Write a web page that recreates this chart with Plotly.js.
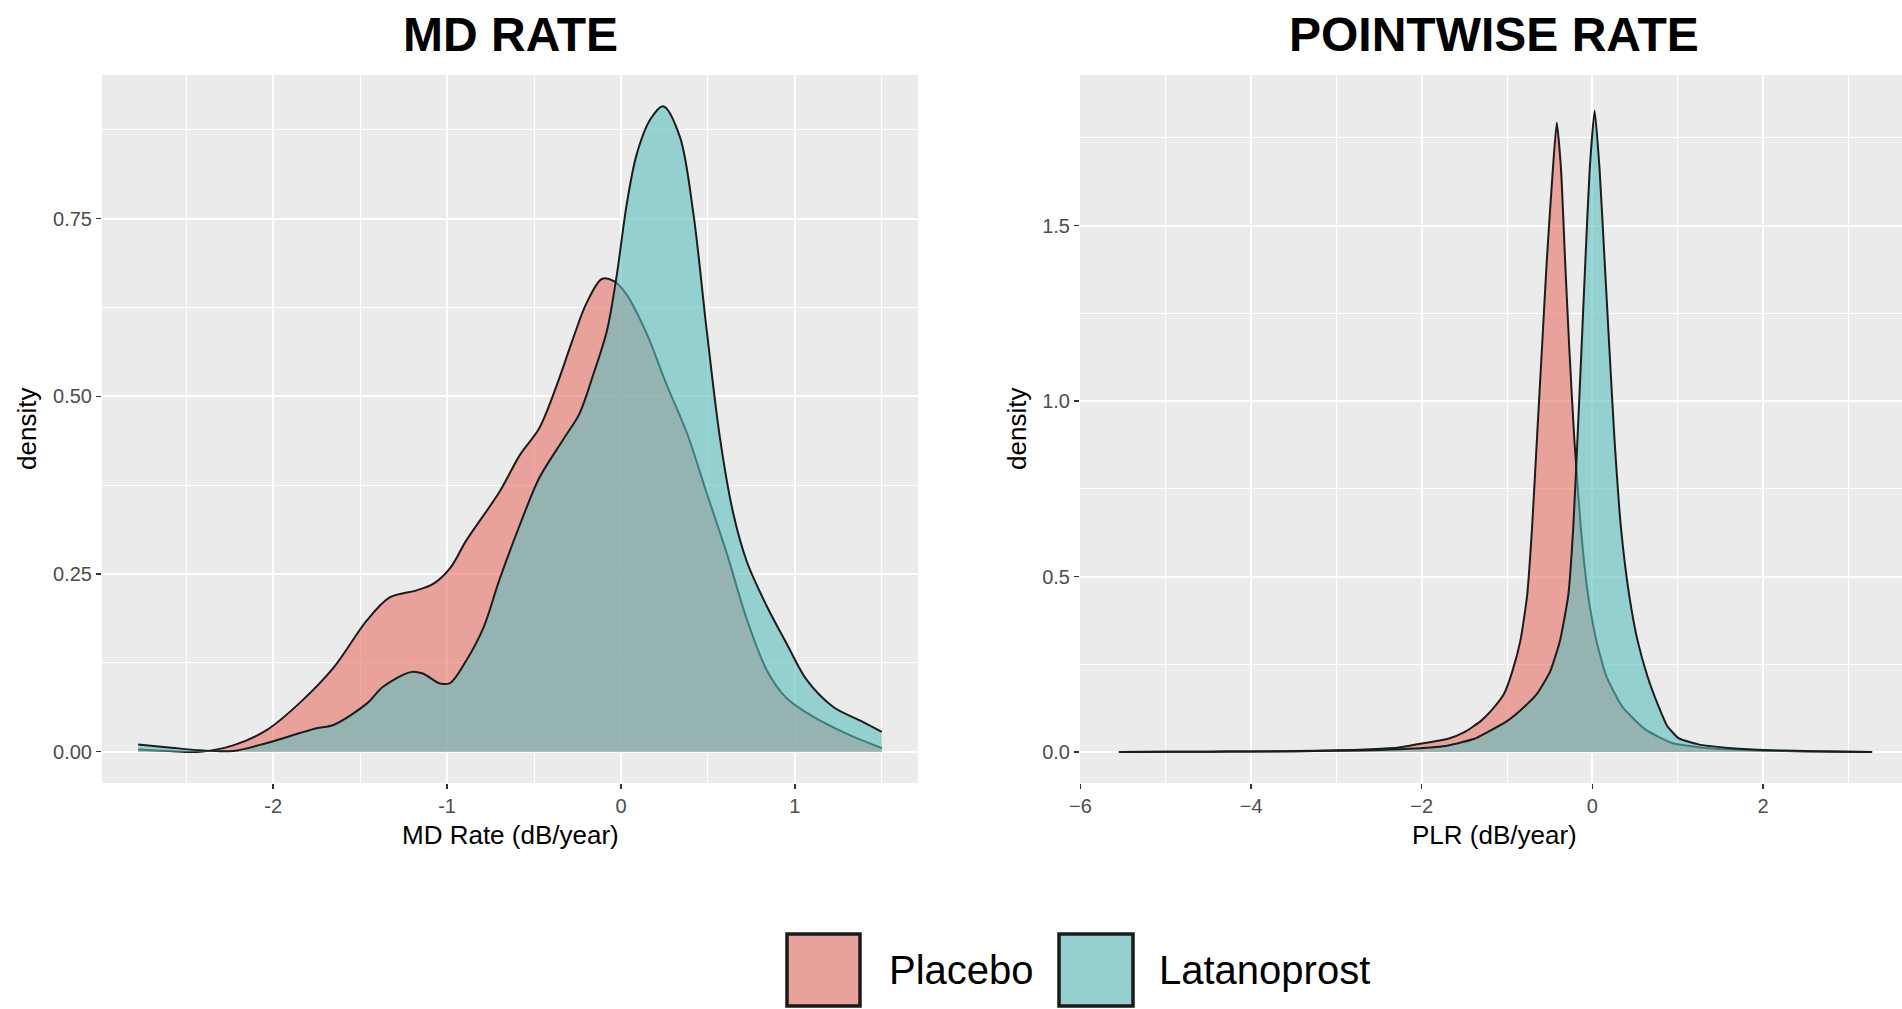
<!DOCTYPE html>
<html>
<head>
<meta charset="utf-8">
<script src="https://cdn.plot.ly/plotly-3.0.1.min.js"></script>
<style>
  html, body { margin: 0; padding: 0; background: #ffffff; }
  #chart { width: 1902px; height: 1009px; }
</style>
</head>
<body>
<div id="chart"></div>
<script>
// ---------------- DATA ----------------
const groups = ["Placebo", "Latanoprost"];
const panelTitles = ["MD RATE", "POINTWISE RATE"];
const xTitles = ["MD Rate (dB/year)", "PLR (dB/year)"];
const yTitle = "density";

// MD rate panel
const mdPlaceboX = [-2.776, -2.6, -2.42, -2.23, -2.04, -1.85, -1.65, -1.46, -1.33, -1.175, -1.08, -0.98, -0.89, -0.70, -0.58, -0.47, -0.37, -0.27, -0.20, -0.11, -0.04, 0.03, 0.15, 0.26, 0.38, 0.49, 0.61, 0.72, 0.84, 0.95, 1.1, 1.3, 1.5];
const mdPlaceboY = [0.003, 0.001, 0.0, 0.009, 0.030, 0.068, 0.119, 0.185, 0.217, 0.227, 0.236, 0.259, 0.297, 0.365, 0.418, 0.455, 0.515, 0.585, 0.630, 0.665, 0.662, 0.644, 0.587, 0.518, 0.448, 0.366, 0.278, 0.189, 0.114, 0.076, 0.05, 0.025, 0.005];
const mdLatanoX = [-2.776, -2.6, -2.42, -2.23, -2.04, -1.85, -1.75, -1.65, -1.46, -1.37, -1.21, -1.14, -1.04, -0.98, -0.89, -0.79, -0.70, -0.58, -0.47, -0.33, -0.24, -0.16, -0.08, -0.025, 0.033, 0.09, 0.17, 0.243, 0.339, 0.416, 0.493, 0.569, 0.646, 0.723, 0.838, 0.953, 1.068, 1.221, 1.374, 1.5];
const mdLatanoY = [0.010, 0.006, 0.002, 0.001, 0.012, 0.026, 0.033, 0.038, 0.068, 0.091, 0.112, 0.110, 0.096, 0.097, 0.128, 0.175, 0.241, 0.32, 0.385, 0.44, 0.475, 0.53, 0.593, 0.669, 0.77, 0.84, 0.89, 0.908, 0.865, 0.758, 0.593, 0.442, 0.335, 0.268, 0.205, 0.152, 0.101, 0.063, 0.044, 0.028];

// Pointwise rate panel
const plrPlaceboX = [-5.55, -5.0, -4.5, -4.0, -3.5, -3.0, -2.6, -2.27, -1.96, -1.69, -1.5, -1.305, -1.15, -1.035, -0.938, -0.842, -0.764, -0.707, -0.649, -0.591, -0.533, -0.463, -0.417, -0.367, -0.32, -0.27, -0.212, -0.135, -0.05, 0.046, 0.162, 0.355, 0.625, 0.934, 1.4, 2.0, 2.5, 3.0, 3.28];
const plrPlaceboY = [0.0, 0.001, 0.001, 0.002, 0.003, 0.005, 0.008, 0.013, 0.026, 0.038, 0.057, 0.089, 0.128, 0.166, 0.23, 0.319, 0.447, 0.638, 0.894, 1.149, 1.404, 1.66, 1.794, 1.66, 1.404, 1.149, 0.894, 0.638, 0.447, 0.319, 0.217, 0.128, 0.064, 0.026, 0.01, 0.004, 0.002, 0.001, 0.0];
const plrLatanoX = [-5.55, -5.0, -4.5, -4.0, -3.5, -3.0, -2.5, -2.08, -1.69, -1.382, -1.228, -0.996, -0.803, -0.649, -0.494, -0.378, -0.282, -0.224, -0.174, -0.127, -0.081, -0.031, 0.027, 0.085, 0.143, 0.2, 0.259, 0.336, 0.432, 0.529, 0.645, 0.78, 0.876, 1.01, 1.243, 1.59, 2.0, 2.5, 3.0, 3.28];
const plrLatanoY = [0.0, 0.001, 0.001, 0.002, 0.002, 0.004, 0.006, 0.01, 0.019, 0.038, 0.057, 0.089, 0.128, 0.166, 0.23, 0.319, 0.447, 0.638, 0.894, 1.149, 1.404, 1.66, 1.828, 1.66, 1.404, 1.149, 0.894, 0.638, 0.447, 0.319, 0.217, 0.128, 0.075, 0.040, 0.022, 0.012, 0.006, 0.003, 0.001, 0.0];

// Tick labels
const mdXTicks = [-2, -1, 0, 1];
const mdXTickText = ["-2", "-1", "0", "1"];
const mdYTicks = [0, 0.25, 0.5, 0.75];
const mdYTickText = ["0.00", "0.25", "0.50", "0.75"];
const plrXTicks = [-6, -4, -2, 0, 2];
const plrXTickText = ["\u22126", "\u22124", "\u22122", "0", "2"];
const plrYTicks = [0, 0.5, 1.0, 1.5];
const plrYTickText = ["0.0", "0.5", "1.0", "1.5"];

// ---------------- STYLE ----------------
const W = 1902, H = 1009;
const px = v => v / W;
const py = v => 1 - v / H;

const fills = {
  "Placebo": "rgba(232,113,102,0.6)",
  "Latanoprost": "rgba(92,190,192,0.6)"
};
const keyFills = { "Placebo": "#E8A29B", "Latanoprost": "#96CFD0" };
const outline = { color: "#1c1c1c", width: 2, shape: "spline", smoothing: 0.9 };
const outlineSharp = { color: "#1c1c1c", width: 2, shape: "spline", smoothing: 0.5 };

function densityTrace(x, y, name, xa, ya, line) {
  return {
    type: "scatter", mode: "lines", x: x, y: y, name: name,
    xaxis: xa, yaxis: ya, fill: "tozeroy",
    fillcolor: fills[name], line: line, hoverinfo: "skip", showlegend: false
  };
}

const data = [
  densityTrace(mdPlaceboX, mdPlaceboY, groups[0], "x", "y", outline),
  densityTrace(mdLatanoX, mdLatanoY, groups[1], "x", "y", outline),
  densityTrace(plrPlaceboX, plrPlaceboY, groups[0], "x2", "y2", outlineSharp),
  densityTrace(plrLatanoX, plrLatanoY, groups[1], "x2", "y2", outlineSharp)
];

const tickFont = { family: "Liberation Sans, Arial, sans-serif", size: 20, color: "#4D4D4D" };

function axis(extra) {
  return Object.assign({
    tickmode: "array",
    showgrid: true, gridcolor: "#FFFFFF", gridwidth: 2,
    zeroline: false, showline: false,
    ticks: "outside", ticklen: 5, tickwidth: 1.5, tickcolor: "#333333",
    tickfont: tickFont, fixedrange: true
  }, extra);
}

const yDomain = [1 - 783 / H, 1 - 75 / H];

const layout = {
  width: W, height: H,
  margin: { l: 0, r: 0, t: 0, b: 0 },
  paper_bgcolor: "#FFFFFF",
  plot_bgcolor: "#EBEBEB",
  showlegend: false,
  xaxis: axis({
    domain: [px(102), px(918)], range: [-2.984, 1.708], anchor: "y",
    tickvals: mdXTicks, ticktext: mdXTickText,
    minor: { tickvals: [-2.5, -1.5, -0.5, 0.5, 1.5], showgrid: true, gridcolor: "#FFFFFF", gridwidth: 1, ticks: "" }
  }),
  yaxis: axis({
    domain: yDomain, range: [-0.044, 0.952], anchor: "x",
    tickvals: mdYTicks, ticktext: mdYTickText,
    minor: { tickvals: [0.125, 0.375, 0.625, 0.875], showgrid: true, gridcolor: "#FFFFFF", gridwidth: 1, ticks: "" }
  }),
  xaxis2: axis({
    domain: [px(1080), 1], range: [-6.006, 3.63], anchor: "y2",
    tickvals: plrXTicks, ticktext: plrXTickText,
    minor: { tickvals: [-5, -3, -1, 1, 3], showgrid: true, gridcolor: "#FFFFFF", gridwidth: 1, ticks: "" }
  }),
  yaxis2: axis({
    domain: yDomain, range: [-0.088, 1.929], anchor: "x2",
    tickvals: plrYTicks, ticktext: plrYTickText,
    minor: { tickvals: [0.25, 0.75, 1.25, 1.75], showgrid: true, gridcolor: "#FFFFFF", gridwidth: 1, ticks: "" }
  }),
  annotations: [],
  shapes: []
};

const titleFont = { family: "Liberation Sans, Arial, sans-serif", size: 48, color: "#000000", weight: "bold" };
const axTitleFont = { family: "Liberation Sans, Arial, sans-serif", size: 26, color: "#000000" };
const legFont = { family: "Liberation Sans, Arial, sans-serif", size: 40, color: "#000000" };

function ann(text, x, y, font, extra) {
  layout.annotations.push(Object.assign({
    text: text, xref: "paper", yref: "paper", x: px(x), y: py(y),
    xanchor: "center", yanchor: "middle", showarrow: false, font: font
  }, extra || {}));
}

// panel titles
ann("<b>" + panelTitles[0] + "</b>", 510, 35, titleFont);
ann("<b>" + panelTitles[1] + "</b>", 1494, 35, titleFont);
// axis titles
ann(xTitles[0], 510, 835, axTitleFont);
ann(xTitles[1], 1494, 835, axTitleFont);
ann(yTitle, 27, 429, axTitleFont, { textangle: -90 });
ann(yTitle, 1017, 429, axTitleFont, { textangle: -90 });

// legend
const keys = [
  { name: groups[0], x0: 787, x1: 860, tx: 887 },
  { name: groups[1], x0: 1059, x1: 1133, tx: 1157 }
];
keys.forEach(k => {
  layout.shapes.push({
    type: "rect", xref: "paper", yref: "paper",
    x0: px(k.x0), x1: px(k.x1), y0: py(1006), y1: py(934),
    fillcolor: keyFills[k.name], line: { color: "#1a1a1a", width: 3.5 }
  });
  ann(k.name, k.tx, 970, legFont, { xanchor: "left" });
});

Plotly.newPlot("chart", data, layout, { displayModeBar: false, staticPlot: true });
</script>
</body>
</html>
